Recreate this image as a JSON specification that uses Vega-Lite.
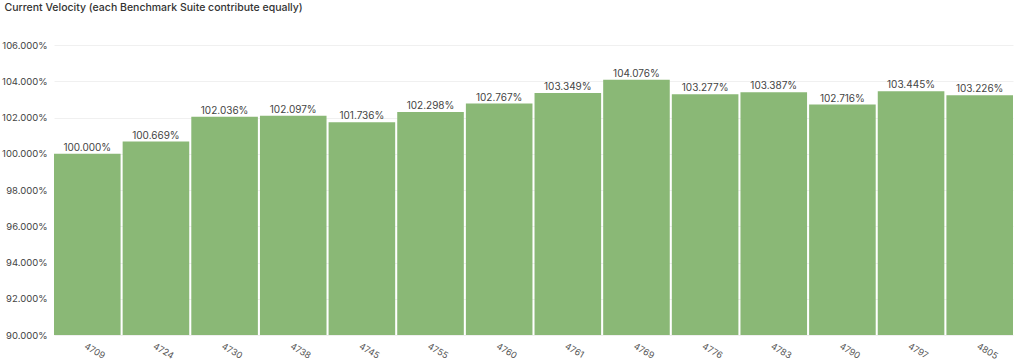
{
  "$schema": "https://vega.github.io/schema/vega-lite/v6.json",
  "width": 959,
  "height": 290,
  "autosize": {"type": "none"},
  "padding": {"left": 54, "top": 45, "right": 11, "bottom": 27},
  "background": "white",
  "config": {"font": "Inter", "view": {"stroke": null}},
  "title": {"text": "Current Velocity (each Benchmark Suite contribute equally)", "anchor": "start", "dx": 3, "offset": 27, "fontSize": 10.5, "fontWeight": 500, "color": "#333333", "font": "Inter"},
  "data": {"values": [
    {"build": "4709", "v": 1.00000},
    {"build": "4724", "v": 1.00669},
    {"build": "4730", "v": 1.02036},
    {"build": "4738", "v": 1.02097},
    {"build": "4745", "v": 1.01736},
    {"build": "4755", "v": 1.02298},
    {"build": "4760", "v": 1.02767},
    {"build": "4761", "v": 1.03349},
    {"build": "4769", "v": 1.04076},
    {"build": "4776", "v": 1.03277},
    {"build": "4783", "v": 1.03387},
    {"build": "4790", "v": 1.02716},
    {"build": "4797", "v": 1.03445},
    {"build": "4805", "v": 1.03226}
  ]},
  "encoding": {
    "x": {"field": "build", "type": "ordinal", "sort": null, "title": null,
      "scale": {"paddingInner": 0.03, "paddingOuter": 0},
      "axis": {"labelAngle": 30, "labelAlign": "left", "labelBaseline": "middle", "domain": false, "ticks": false, "labelPadding": 10, "labelFontSize": 9, "labelColor": "#555555", "labelOffset": -2}},
    "y": {"field": "v", "type": "quantitative", "title": null,
      "scale": {"domain": [0.9, 1.06], "zero": false, "nice": false},
      "axis": {"format": ".3%", "values": [0.9, 0.92, 0.94, 0.96, 0.98, 1.0, 1.02, 1.04, 1.06], "domain": false, "ticks": false, "labelPadding": 7, "labelFontSize": 9.5, "labelColor": "#444444", "gridColor": "#f0f0f0", "gridWidth": 1}}
  },
  "layer": [
    {"mark": {"type": "bar", "color": "#8ab876", "clip": true}, "encoding": {"y2": {"datum": 0.9}}},
    {"mark": {"type": "text", "dy": -6, "fontSize": 10, "color": "#444444"}, "encoding": {"text": {"field": "v", "format": ".3%"}}}
  ]
}
